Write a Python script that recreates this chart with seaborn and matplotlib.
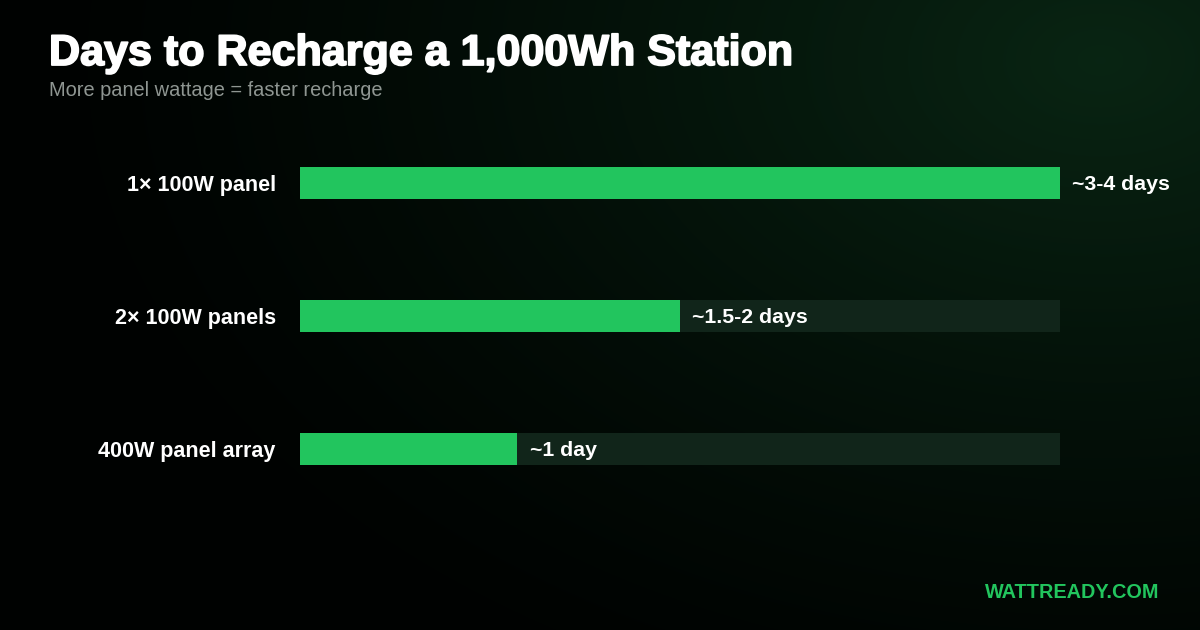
import numpy as np
import pandas as pd
import matplotlib
matplotlib.use("Agg")
import matplotlib.pyplot as plt
import matplotlib.patheffects as pe
import seaborn as sns

# chart data
setups = ["1× 100W panel", "2× 100W panels", "400W panel array"]
days = [3.5, 1.75, 1.0]
day_labels = ["~3-4 days", "~1.5-2 days", "~1 day"]
max_days = 3.5

title = "Days to Recharge a 1,000Wh Station"
subtitle = "More panel wattage = faster recharge"
brand = "WATTREADY.COM"

GREEN = "#22c55e"
TRACK = "#11251a"

sns.set_theme(style="white")
plt.rcParams["font.family"] = ["Liberation Sans", "DejaVu Sans"]

df = pd.DataFrame({"setup": setups, "days": days, "track": [max_days] * len(setups)})

fig = plt.figure(figsize=(12, 6.3), dpi=100)

# background: black with a soft green glow from the upper right
bg = fig.add_axes([0, 0, 1, 1], zorder=0)
W, H = 1200, 630
yy, xx = np.mgrid[0:H, 0:W]
d = np.sqrt(((xx - 1100) / 1050.0) ** 2 + ((yy - 60) / 700.0) ** 2)
glow = np.clip(1 - d, 0, 1) ** 1.3
img = np.zeros((H, W, 3))
img[..., 0] = 0.035 * glow
img[..., 1] = 0.135 * glow + 0.01
img[..., 2] = 0.07 * glow + 0.005
bg.imshow(img, aspect="auto", extent=[0, 1, 0, 1], origin="upper")
bg.axis("off")

ax = fig.add_axes([0.25, 1 - 515.5 / 630, 760 / 1200, 399 / 630], zorder=1)
ax.patch.set_alpha(0)

sns.barplot(data=df, x="track", y="setup", orient="h", color=TRACK, width=0.24,
	saturation=1, linewidth=0, ax=ax)
sns.barplot(data=df, x="days", y="setup", orient="h", color=GREEN, width=0.24,
	saturation=1, linewidth=0, ax=ax)

for i, (v, lab) in enumerate(zip(days, day_labels)):
	ax.annotate(lab, (v, i), xytext=(9, -1), textcoords="offset points",
		va="center", ha="left", color="white", fontsize=15.3, fontweight="bold")

ax.set_xlim(0, max_days)
ax.set_ylim(2.5, -0.5)
ax.set_xlabel("")
ax.set_ylabel("")
ax.set_xticks([])
ax.tick_params(axis="y", length=0, pad=17.5, labelsize=15.5, labelcolor="white")
for t in ax.get_yticklabels():
	t.set_fontweight("bold")
sns.despine(ax=ax, left=True, bottom=True)

fig.text(49 / 1200, 1 - 54 / 630, title, color="white", fontsize=31,
	fontweight="bold", va="center", ha="left",
	path_effects=[pe.withStroke(linewidth=1.3, foreground="white")])
fig.text(49 / 1200, 1 - 90 / 630, subtitle, color="#8f9692", fontsize=14.4,
	va="center", ha="left")
fig.text(1159 / 1200, 1 - 592 / 630, brand, color=GREEN, fontsize=14.3,
	fontweight="bold", va="center", ha="right")

fig.savefig("out.png", dpi=100)
